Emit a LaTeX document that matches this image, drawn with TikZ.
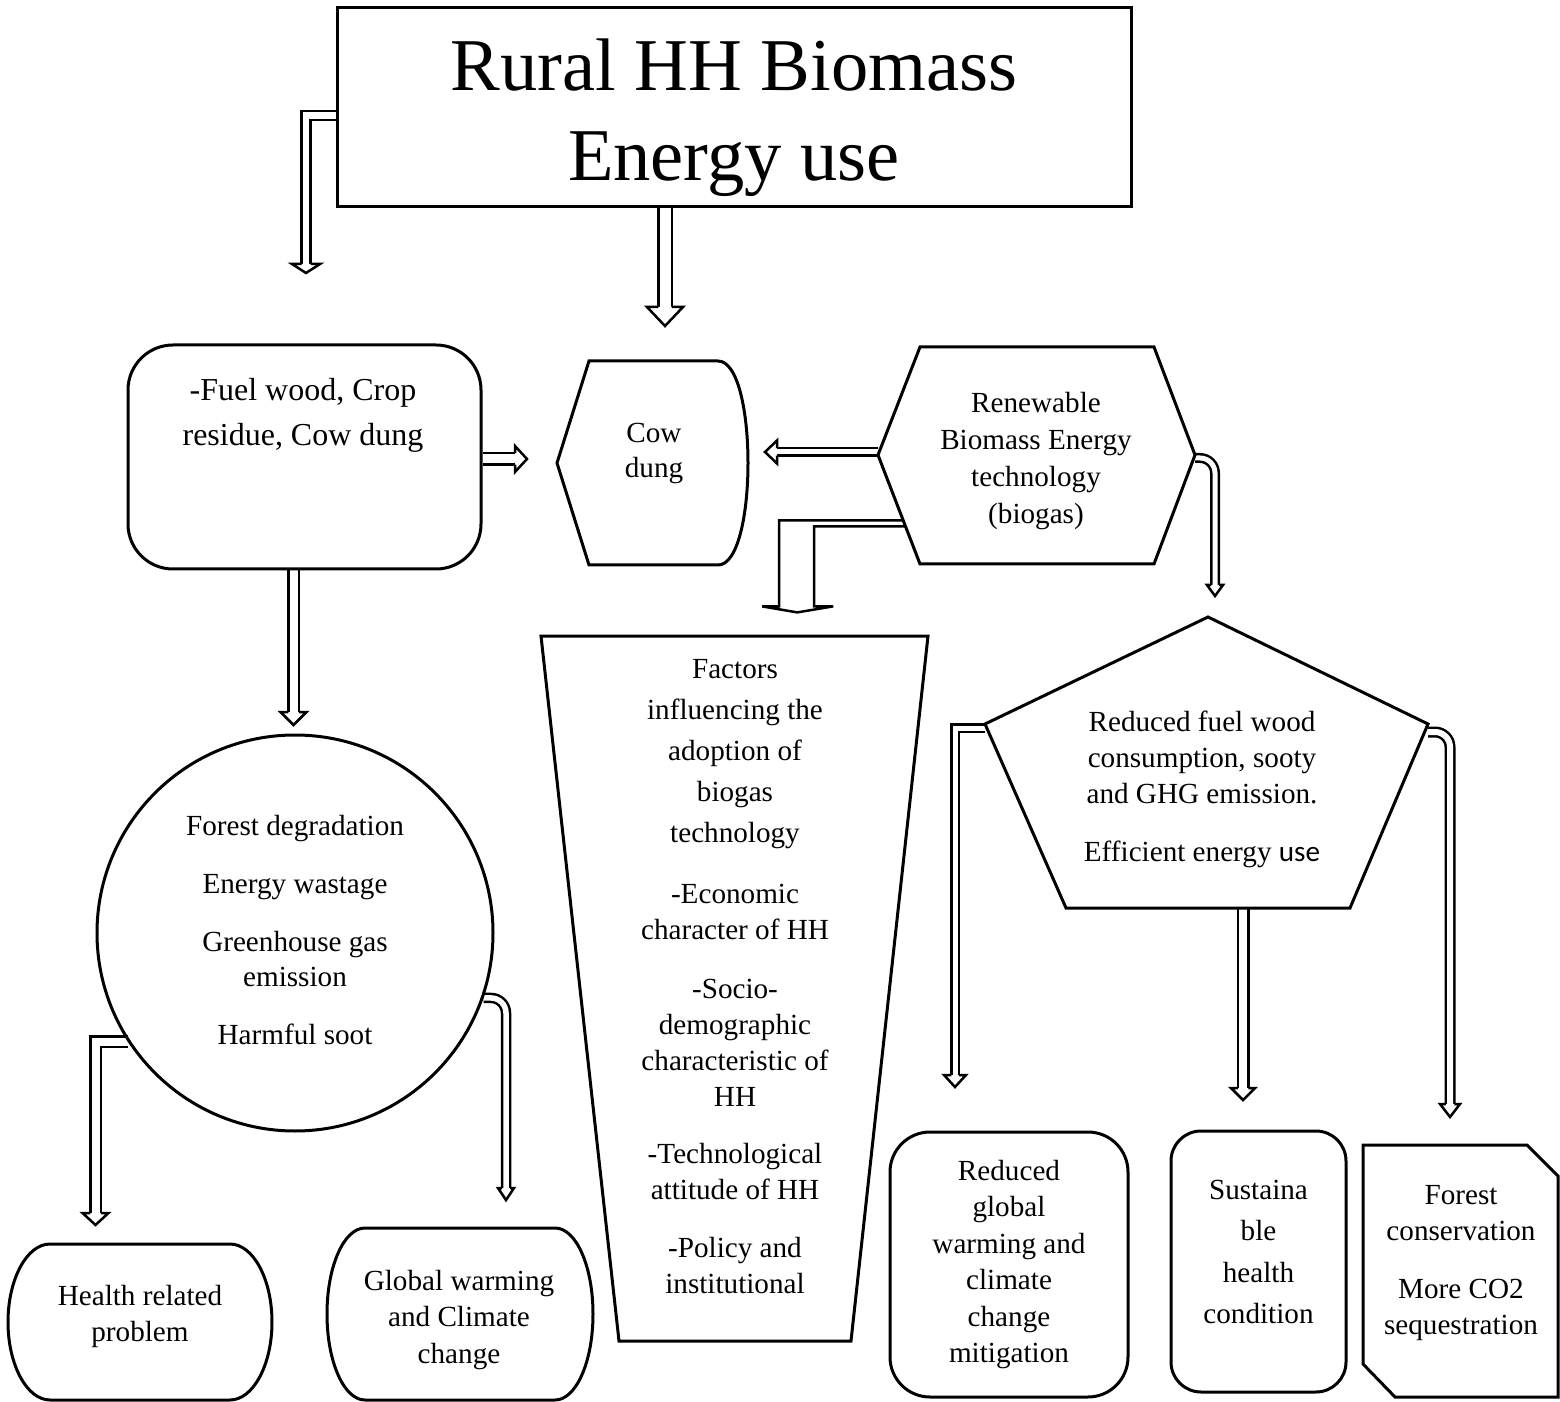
\documentclass[tikz,border=0pt]{standalone}
\usepackage{fontspec}
\setmainfont{Liberation Serif}
\newfontfamily\carlito{Carlito}
\usepackage{tikz}
\usetikzlibrary{calc, backgrounds}
\tikzset{
  blockline/.style={line width=0.3mm},
  txt/.style={font=\fontsize{8.3}{10.24}\selectfont, align=center, inner sep=0pt},
  hollow/.style={line width=0.25mm, double=white, double distance=#1},
  pics/dhead/.style args={#1/#2/#3}{code={
    \draw[line width=0.25mm, fill=white, line join=miter] (-#3,0) -- (-#1,0) -- (0,#2) -- (#1,0) -- (#3,0);
  }},
}

\begin{document}
\begin{tikzpicture}[x=0.1mm, y=-0.1mm]
  \useasboundingbox (0,0) rectangle (1560,1402);

  % Title box
  \node[draw, blockline, minimum width=79.4mm, minimum height=19.9mm] (title) at (734,107.5) {};
  \node[txt, font=\fontsize{21.2}{25.6}\selectfont] (titletext) at (734,118) {Rural HH Biomass\\Energy use};

  % Fuel box
  \node[draw, blockline, rounded corners=4.5mm, minimum width=35.3mm, minimum height=22.4mm] (fuel) at (304.5,457) {};
  \node[txt, font=\fontsize{9.1}{12.8}\selectfont] (fueltext) at (303,415) {-Fuel wood, Crop\\residue, Cow dung};

  % Cow dung display shape
  \draw[blockline] (589,361) -- (718,361) .. controls (738,361) and (748,412) .. (748,463)
    .. controls (748,514) and (738,565) .. (718,565) -- (589,565) -- (557,463) -- cycle;
  \node[txt, font=\fontsize{8.3}{9.96}\selectfont] (cow) at (654,453) {Cow\\dung};

  % Biogas hexagon
  \coordinate (hexNW) at (920,347);
  \coordinate (hexNE) at (1154,347);
  \coordinate (hexE) at (1195,455);
  \coordinate (hexSE) at (1154,564);
  \coordinate (hexSW) at (920,564);
  \coordinate (hexW) at (878,455);
  \draw[blockline] (hexNW) -- (hexNE) -- (hexE) -- (hexSE) -- (hexSW) -- (hexW) -- cycle;
  \node[txt, font=\fontsize{8.3}{10.5}\selectfont] (hextext) at (1036,461) {Renewable\\Biomass Energy\\technology\\(biogas)};

  % Factors trapezoid
  \draw[blockline] (541,636) -- (928,636) -- (851,1341) -- (619,1341) -- cycle;
  \node[txt] (factors) at (735,977) {Factors\\[1.4pt]influencing the\\[1.4pt]adoption of\\[1.4pt]biogas\\[1.4pt]technology\\[7.1pt]-Economic\\character of HH\\[6.5pt]-Socio-\\demographic\\characteristic of\\HH\\[6.1pt]-Technological\\attitude of HH\\[6.3pt]-Policy and\\institutional};

  % Outcome pentagon
  \coordinate (pentT) at (1208,617);
  \coordinate (pentUR) at (1428,724);
  \coordinate (pentBR) at (1350,908);
  \coordinate (pentBL) at (1066,908);
  \coordinate (pentUL) at (985,724);
  \draw[blockline] (pentT) -- (pentUR) -- (pentBR) -- (pentBL) -- (pentUL) -- cycle;
  \node[txt] (penttext) at (1202,789) {Reduced fuel wood\\consumption, sooty\\and GHG emission.\\[6.3pt]Efficient energy {\carlito use}};

  % Harm circle
  \node[draw, blockline, circle, minimum size=39.6mm, txt, font=\fontsize{8.3}{9.96}\selectfont] (harm) at (295,933) {};
  \node[txt, font=\fontsize{8.3}{9.96}\selectfont] (harmtext) at (295,930)
    {Forest degradation\\[6.5pt]Energy wastage\\[6.5pt]Greenhouse gas\\emission\\[6.5pt]Harmful soot};

  % Health box
  \draw[blockline] (50,1244) -- (230,1244) .. controls (253,1244) and (272,1279) .. (272,1322)
    .. controls (272,1365) and (253,1400) .. (230,1400) -- (50,1400)
    .. controls (27,1400) and (8,1365) .. (8,1322) .. controls (8,1279) and (27,1244) .. (50,1244) -- cycle;
  \node[txt] (health) at (140,1316) {Health related\\problem};

  % Global warming box
  \draw[blockline] (365,1228) -- (555,1228) .. controls (576,1228) and (593,1266) .. (593,1314)
    .. controls (593,1362) and (576,1400) .. (555,1400) -- (365,1400)
    .. controls (344,1400) and (327,1362) .. (327,1314) .. controls (327,1266) and (344,1228) .. (365,1228) -- cycle;
  \node[txt, font=\fontsize{8.3}{10.5}\selectfont] (globalw) at (459,1320) {Global warming\\and Climate\\change};

  % Mitigation and health boxes
  \node[draw, blockline, rounded corners=4mm, minimum width=23.8mm, minimum height=26.5mm, txt,
        font=\fontsize{8.3}{10.4}\selectfont] (redbox) at (1009,1264.5) {Reduced\\global\\warming and\\climate\\change\\mitigation};
  \node[draw, blockline, rounded corners=3mm, minimum width=17.5mm, minimum height=26.1mm] (susbox) at (1258.5,1261.5) {};
  \node[txt, font=\fontsize{8.3}{11.7}\selectfont] (sustext) at (1258.5,1252) {Sustaina\\ble\\health\\condition};

  % Forest box with cut corners
  \draw[blockline] (1363,1145) -- (1527,1145) -- (1558,1176) -- (1558,1397) -- (1395,1397) -- (1363,1364) -- cycle;
  \node[txt] (forest) at (1461,1263) {Forest\\conservation\\[6.3pt]More CO2\\sequestration};

  % Hollow arrows behind the shapes
  \coordinate (a1) at (306,264);
  \coordinate (a2) at (665,307);
  \coordinate (a3) at (515,459);
  \coordinate (a4) at (777,452);
  \coordinate (a6) at (1215,585);
  \coordinate (a7) at (955,1075);
  \coordinate (a8) at (1243,1088);
  \coordinate (a9) at (1450,1104);
  \coordinate (a10) at (293.5,712);
  \coordinate (a11) at (95.5,1213);
  \coordinate (a12) at (506,1188);
  \coordinate (h5) at ($(hexW)!0.6!(hexSW)$);
  \begin{scope}[on background layer]
    \draw[hollow=0.65mm] ($(title.west)+(0,8)$) -| (a1);
    \pic at (a1) {dhead=14/9/4.5};
    \draw[hollow=1.1mm] (title.south -| a2) -- (a2);
    \pic at (a2) {dhead=18/19/6.75};
    \draw[hollow=0.9mm] (fuel.east |- a3) -- (a3);
    \pic[rotate=90] at (a3) {dhead=13/12/5.75};
    \draw[hollow=0.5mm] (hexW |- a4) -- (a4);
    \pic[rotate=-90] at (a4) {dhead=11.5/12/3.75};
    % wide bent arrow down to the factors
    \draw[line width=0.25mm, fill=white] (h5) -- ++(-124,0) -- ++(0,86) -- ++(-17,0) -- ++(35,6)
      -- ++(36,-6) -- ++(-19,0) -- ++(0,-80) -- ++(91,0);
    \draw[hollow=0.5mm, rounded corners=1.5mm] ($(hexE)+(0,3)$) -| (a6);
    \pic at (a6) {dhead=8/11/3.75};
    \draw[hollow=0.5mm] ($(pentUL)+(0,4)$) -| (a7);
    \pic at (a7) {dhead=11/12/3.75};
    \draw[hollow=0.8mm] (pentBL -| a8) -- (a8);
    \pic at (a8) {dhead=12/12/5.25};
    \draw[hollow=0.6mm, rounded corners=1.5mm] ($(pentUR)+(0,8)$) -| (a9);
    \pic at (a9) {dhead=10/13/4.25};
    \draw[hollow=0.8mm] (fuel.south -| a10) -- (a10);
    \pic at (a10) {dhead=13/13/5.25};
    \draw[hollow=0.8mm] (harm.213) -| (a11);
    \pic at (a11) {dhead=13/12/5.25};
    \draw[hollow=0.55mm, rounded corners=1.5mm] (harm.-19) -| (a12);
    \pic at (a12) {dhead=8/12/4};
  \end{scope}
\end{tikzpicture}
\end{document}
